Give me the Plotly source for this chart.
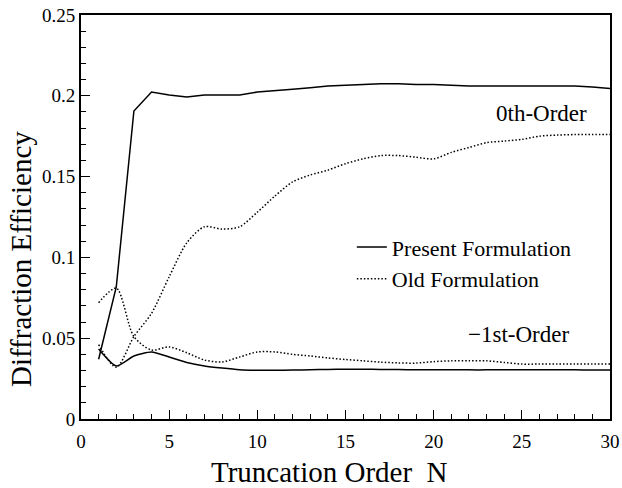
import plotly.graph_objects as go

N = list(range(1, 31))
present_0th = [0.037, 0.0817, 0.1906, 0.2023, 0.2005, 0.1993, 0.2005, 0.2005, 0.2005, 0.2023,
               0.203, 0.204, 0.205, 0.206, 0.2065, 0.207, 0.2075, 0.2075, 0.207, 0.207,
               0.2065, 0.206, 0.206, 0.206, 0.206, 0.206, 0.206, 0.206, 0.2055, 0.2045]
present_m1 = [0.0433, 0.0328, 0.039, 0.0415, 0.0384, 0.035, 0.0328, 0.0315, 0.0305, 0.0302,
              0.0302, 0.0303, 0.0305, 0.0307, 0.0308, 0.0308, 0.0307, 0.0306, 0.0305, 0.0305,
              0.0305, 0.0304, 0.0304, 0.0304, 0.0304, 0.0304, 0.0304, 0.0304, 0.0303, 0.0303]
old_0th = [0.046, 0.032, 0.051, 0.0654, 0.088, 0.109, 0.119, 0.1175, 0.119, 0.128,
           0.138, 0.1467, 0.151, 0.154, 0.158, 0.161, 0.163, 0.163, 0.162, 0.161,
           0.165, 0.168, 0.171, 0.172, 0.173, 0.175, 0.1757, 0.176, 0.176, 0.176]
old_m1 = [0.072, 0.081, 0.051, 0.0427, 0.0446, 0.041, 0.0365, 0.0353, 0.0384, 0.0415,
          0.0415, 0.040, 0.039, 0.0378, 0.0368, 0.036, 0.0352, 0.0347, 0.0346, 0.0355,
          0.036, 0.036, 0.036, 0.035, 0.034, 0.034, 0.034, 0.034, 0.034, 0.034]

x_ticks = [0, 5, 10, 15, 20, 25, 30]
y_ticks = [0, 0.05, 0.1, 0.15, 0.2, 0.25]
y_ticktext = ["0", "0.05", "0.1", "0.15", "0.2", "0.25"]

FONT = '"Liberation Serif", "Times New Roman", Times, serif'
DOT = "1.5px,2px"

fig = go.Figure()
fig.add_trace(go.Scatter(x=N, y=present_0th, mode="lines", name="Present Formulation",
                         line=dict(color="black", width=1.5)))
fig.add_trace(go.Scatter(x=N, y=present_m1, mode="lines", showlegend=False,
                         line=dict(color="black", width=1.5, shape="spline", smoothing=0.6)))
fig.add_trace(go.Scatter(x=N, y=old_0th, mode="lines", name="Old Formulation",
                         line=dict(color="black", width=1.5, dash=DOT, shape="spline", smoothing=0.8)))
fig.add_trace(go.Scatter(x=N, y=old_m1, mode="lines", showlegend=False,
                         line=dict(color="black", width=1.5, dash=DOT, shape="spline", smoothing=0.8)))

fig.add_annotation(x=26.1, y=0.189, text="0th-Order", showarrow=False,
                   xanchor="center", yanchor="middle", font=dict(family=FONT, size=23, color="black"))
fig.add_annotation(x=24.8, y=0.052, text="\u22121st-Order", showarrow=False,
                   xanchor="center", yanchor="middle", font=dict(family=FONT, size=23, color="black"))
# axis titles
fig.add_annotation(xref="paper", yref="paper", x=0.47, y=-0.131, text="Truncation Order\u00a0\u00a0N",
                   showarrow=False, xanchor="center", yanchor="middle",
                   font=dict(family=FONT, size=29, color="black"))
fig.add_annotation(xref="paper", yref="paper", x=-0.1134, y=0.396, text="Diffraction Efficiency",
                   showarrow=False, textangle=-90, xanchor="center", yanchor="middle",
                   font=dict(family=FONT, size=29, color="black"))

fig.update_layout(
    width=622, height=488,
    margin=dict(l=81, r=12, t=15, b=69),
    paper_bgcolor="white", plot_bgcolor="white",
    font=dict(family=FONT, color="black"),
    showlegend=True,
    legend=dict(x=0.512, y=0.477, xanchor="left", yanchor="top",
                bgcolor="rgba(0,0,0,0)", font=dict(family=FONT, size=22),
                tracegroupgap=0),
)
fig.update_xaxes(range=[0, 30], tickvals=x_ticks, ticks="inside", ticklen=9,
                 tickwidth=1, tickcolor="black", showgrid=False, zeroline=False,
                 showline=True, linecolor="black", linewidth=2, mirror=True,
                 automargin=False, ticklabeloverflow="allow", ticklabelstandoff=4,
                 tickfont=dict(family=FONT, size=19),
                 minor=dict(ticks="inside", dtick=1, ticklen=5, tickcolor="black", showgrid=False))
fig.update_yaxes(range=[0, 0.25], tickvals=y_ticks, ticktext=y_ticktext, ticks="inside",
                 ticklen=9, tickwidth=1, tickcolor="black", showgrid=False, zeroline=False,
                 showline=True, linecolor="black", linewidth=2, mirror=True,
                 automargin=False, ticklabeloverflow="allow",
                 tickfont=dict(family=FONT, size=19),
                 minor=dict(ticks="inside", dtick=0.01, ticklen=5, tickcolor="black", showgrid=False))

fig.write_html("out.html", config={"displayModeBar": False},
               post_script="document.body.style.margin='0px';")
